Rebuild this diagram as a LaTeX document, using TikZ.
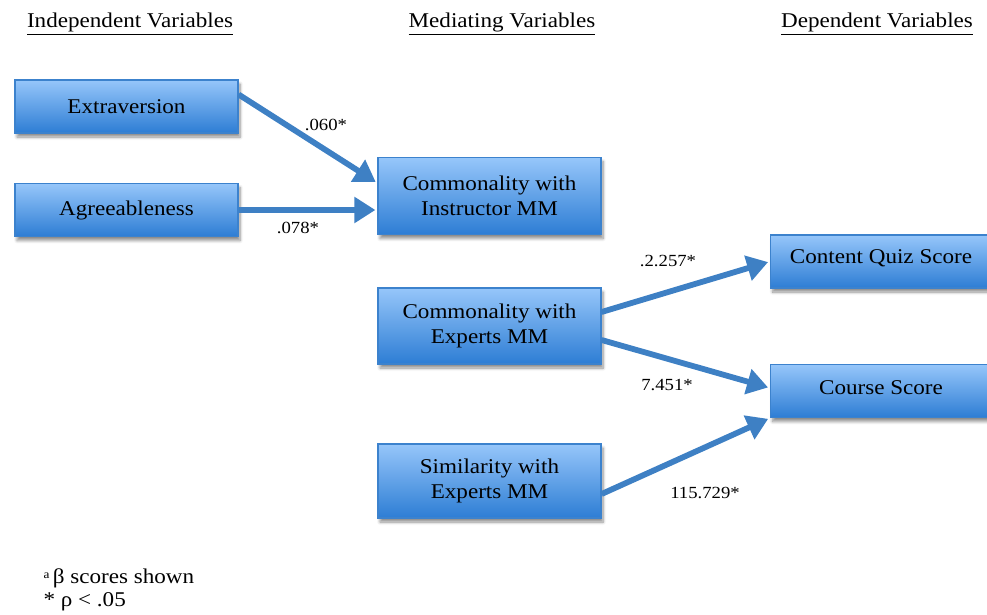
\documentclass[tikz,border=0pt]{standalone}
\usepackage{fontspec}
\setmainfont{Liberation Serif}[FakeStretch=1.1]
\usetikzlibrary{shadows.blur,arrows.meta}
\definecolor{boxtop}{RGB}{150,198,250}
\definecolor{boxbot}{RGB}{45,125,212}
\definecolor{boxline}{RGB}{60,130,205}
\definecolor{arrowblue}{RGB}{62,128,196}
\tikzset{
  varbox/.style={draw=boxline, line width=1.2pt, top color=boxtop, bottom color=boxbot,
    minimum width=223pt, minimum height=53pt, align=center, font=\fontsize{21}{25}\selectfont,
    blur shadow={shadow xshift=2pt, shadow yshift=-4pt, shadow blur radius=3pt, shadow blur steps=6, shadow opacity=45}},
  link/.style={draw=arrowblue, line width=5.8pt, -{Triangle[length=21pt,width=25pt]}, shorten >=2pt},
  coef/.style={font=\fontsize{17}{20}\selectfont},
  header/.style={font=\fontsize{21}{25}\selectfont, anchor=base}
}
\begin{document}
\begin{tikzpicture}[x=1pt,y=-1pt]
\useasboundingbox (0,0) rectangle (987,615);
% column headings
\node[header] (h1) at (130,28) {\underline{Independent Variables}};
\node[header] (h2) at (502,28) {\underline{Mediating Variables}};
\node[header] (h3) at (877,28) {\underline{Dependent Variables}};
% boxes
\node[varbox] (extra) at (126.5,106.5) {Extraversion};
\node[varbox] (agree) at (126.5,210) {Agreeableness};
\node[varbox, minimum height=77pt] (instr) at (489.5,196) {Commonality with\\Instructor MM};
\node[varbox, minimum height=76pt] (expcom) at (489.5,326) {Commonality with\\Experts MM};
\node[varbox, minimum height=74pt] (expsim) at (489.5,481) {Similarity with\\Experts MM};
\node[varbox, minimum width=230pt, anchor=west] (quiz) at (770,261.5) {};
\node[varbox, minimum width=230pt, anchor=west] (course) at (770,391) {};
\node[font=\fontsize{21}{25}\selectfont] (quizt) at (881,258) {Content Quiz Score};
\node[font=\fontsize{21}{25}\selectfont] (courset) at (881,388) {Course Score};
% paths
\coordinate (e1) at ([yshift=12pt]extra.east);
\coordinate (i1) at ([yshift=13pt]instr.west);
\coordinate (i2) at ([yshift=-12pt]instr.west);
\draw[link] (e1) -- (i1);
\draw[link] (agree.east) -- (agree.east -| i2);
\coordinate (c1) at ([yshift=14pt]expcom.east);
\coordinate (c2) at ([yshift=-14pt]expcom.east);
\coordinate (q1) at (quiz.west);
\coordinate (k1) at ([yshift=3pt]course.west);
\coordinate (k2) at ([yshift=-27pt]course.west);
\coordinate (s1) at ([yshift=-13pt]expsim.east);
\draw[link] (c1) -- (q1);
\draw[link] (c2) -- (k1);
\draw[link] (s1) -- (k2);
% coefficients
\node[coef] (b1) at (326,125) {.060*};
\node[coef] (b2) at (298,228) {.078*};
\node[coef] (b3) at (668,261) {.2.257*};
\node[coef] (b4) at (667,385) {7.451*};
\node[coef] (b5) at (705,493) {115.729*};
% notes
\node[font=\fontsize{21}{25}\selectfont, anchor=base west] (n1) at (40,583) {\raisebox{5pt}{\fontsize{12}{14}\selectfont a}\,β scores shown};
\node[font=\fontsize{21}{25}\selectfont, anchor=base west] (n2) at (40,606) {* ρ < .05};
\end{tikzpicture}
\end{document}
